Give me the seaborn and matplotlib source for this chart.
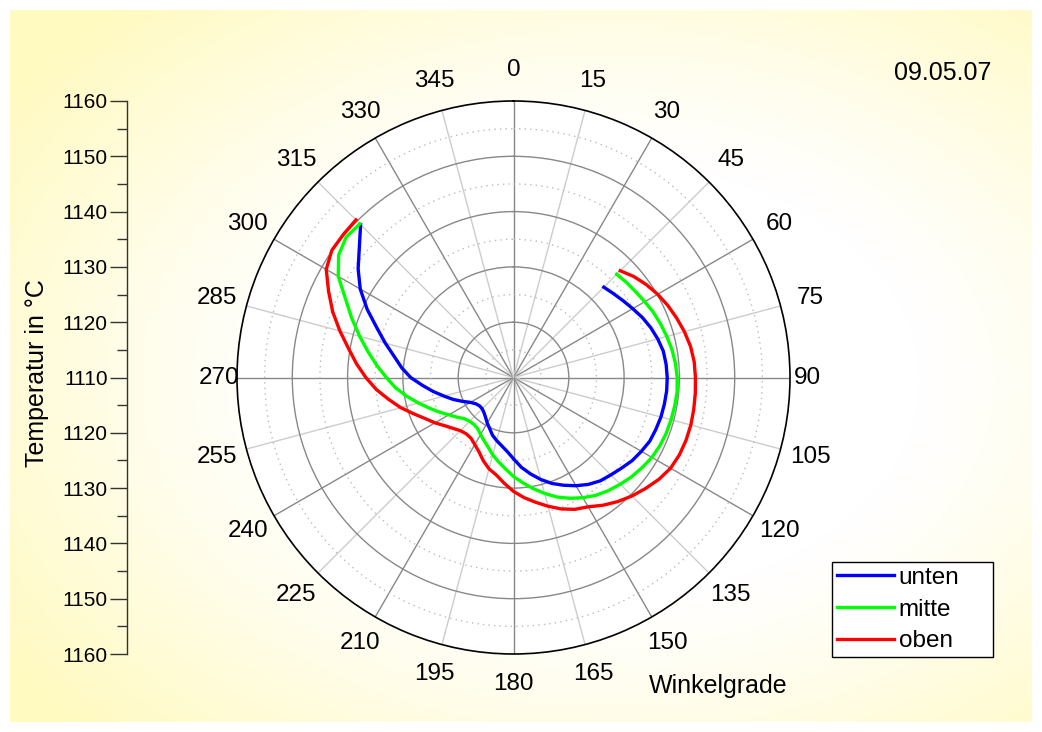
import numpy as np
import pandas as pd
import matplotlib
matplotlib.use("Agg")
import matplotlib.pyplot as plt
import matplotlib.transforms as mtransforms
import seaborn as sns
from matplotlib.ticker import FixedLocator, FuncFormatter

# Measurement angles (degrees, clockwise from top)
winkel = np.arange(45, 320, 5)

# Temperatures in °C per sensor position
unten = [1133.1, 1133.6, 1134.2, 1134.9, 1135.7, 1136.4, 1137.0, 1137.5, 1137.7, 1137.8,
         1137.8, 1137.7, 1137.6, 1137.4, 1137.2, 1136.7, 1136.2, 1135.5, 1134.9, 1134.4,
         1133.6, 1132.6, 1131.5, 1130.4, 1129.1, 1127.7, 1126.3, 1124.7, 1123.4, 1122.5,
         1121.8, 1121.1, 1120.2, 1119.5, 1118.8, 1118.3, 1118.0, 1118.0, 1118.3, 1119.0,
         1120.2, 1121.6, 1123.0, 1124.7, 1126.5, 1128.6, 1130.3, 1131.9, 1134.0, 1136.3,
         1139.2, 1142.0, 1144.3, 1146.4, 1149.1]
mitte = [1136.4, 1136.7, 1137.0, 1137.4, 1137.9, 1138.3, 1138.7, 1139.1, 1139.4, 1139.6,
         1139.7, 1139.6, 1139.5, 1139.4, 1139.2, 1138.9, 1138.4, 1137.9, 1137.3, 1136.7,
         1136.0, 1135.1, 1134.1, 1133.0, 1131.7, 1130.4, 1129.1, 1127.9, 1126.6, 1125.5,
         1124.5, 1123.4, 1122.6, 1121.9, 1121.3, 1121.1, 1121.2, 1121.6, 1122.5, 1123.5,
         1124.8, 1126.2, 1127.8, 1129.6, 1131.4, 1133.0, 1134.8, 1136.7, 1138.8, 1141.1,
         1143.5, 1146.6, 1148.6, 1149.5, 1149.3]
oben = [1137.3, 1138.4, 1139.3, 1140.1, 1140.8, 1141.4, 1142.0, 1142.5, 1142.8, 1142.9,
        1143.0, 1143.1, 1143.2, 1143.2, 1143.1, 1142.8, 1142.1, 1141.2, 1140.3, 1139.3,
        1138.2, 1137.0, 1136.3, 1135.3, 1134.1, 1132.9, 1131.8, 1130.6, 1129.2, 1127.9,
        1127.1, 1126.0, 1124.8, 1124.0, 1123.4, 1123.3, 1123.6, 1124.3, 1125.2, 1126.4,
        1127.6, 1129.2, 1131.1, 1132.9, 1134.9, 1136.7, 1138.5, 1140.3, 1142.5, 1144.8,
        1146.9, 1149.1, 1150.1, 1150.2, 1150.3]

serien = ["unten", "mitte", "oben"]
farben = {"unten": "#0000ff", "mitte": "#00ff00", "oben": "#ff0000"}
winkel_ticks = list(range(0, 360, 15))
winkel_labels = [str(a) for a in winkel_ticks]
t_min, t_max = 1110, 1160
datum = "09.05.07"

df = pd.concat([
    pd.DataFrame({"winkel": np.deg2rad(winkel), "temp": vals, "Lage": name})
    for name, vals in zip(serien, [unten, mitte, oben])
], ignore_index=True)

plt.rcParams["font.family"] = ["Liberation Sans", "DejaVu Sans"]

W, H = 1042, 732
fig = plt.figure(figsize=(W / 100, H / 100), dpi=100)
fig.patch.set_facecolor("white")

# Soft yellow background with a white centre
bg = fig.add_axes([10 / W, 10 / H, 1022 / W, 712 / H], zorder=-5)
bg.axis("off")
gy, gx = np.mgrid[0:712, 0:1022]
d = np.sqrt(((gx - 600) / 560.0) ** 2 + ((gy - 370) / 390.0) ** 2)
t = np.clip((d - 0.55) / 0.75, 0, 1) ** 1.2
yellow = np.array([255, 250, 192]) / 255.0
img = (1 - t[..., None]) * np.ones(3) + t[..., None] * yellow
bg.imshow(img, aspect="auto", interpolation="bilinear")

# Polar plot
ax = fig.add_axes([237 / W, 78 / H, 553 / W, 553 / H], projection="polar")
ax.set_facecolor("white")
ax.set_theta_zero_location("N")
ax.set_theta_direction(-1)

sns.lineplot(data=df, x="winkel", y="temp", hue="Lage", hue_order=serien,
             palette=farben, estimator=None, sort=False, linewidth=2.4,
             legend=False, ax=ax)
ax.set_ylim(t_min, t_max)
ax.set_xlabel("")
ax.set_ylabel("")

ax.set_xticks(np.deg2rad(winkel_ticks))
ax.set_xticklabels([])
ax.tick_params(axis="x", length=0)
for i, gl in enumerate(ax.xaxis.get_gridlines()):
    if i % 2 == 0:
        gl.set(color="#888888", linewidth=1.0, linestyle="-")
    else:
        gl.set(color="#cccccc", linewidth=1.0, linestyle="-")

# Angle labels, centred just outside the rim
rim_px = 276.5
for a, lab in zip(winkel_ticks, winkel_labels):
    s, c = np.sin(np.deg2rad(a)), np.cos(np.deg2rad(a))
    dist = (294.0 if a in (90, 270) else 307.0) - rim_px
    tr = mtransforms.offset_copy(ax.transData, fig=fig, x=dist * s, y=dist * c,
                                 units="dots")
    ax.text(np.deg2rad(a), t_max, lab, transform=tr, fontsize=17.5,
            ha="center", va="center", clip_on=False)

r_ticks = list(range(1115, 1160, 5))
ax.set_yticks(r_ticks)
ax.set_yticklabels([])
ax.tick_params(axis="y", length=0)
for v, gl in zip(r_ticks, ax.yaxis.get_gridlines()):
    if v % 10 == 0:
        gl.set(color="#888888", linewidth=1.0, linestyle="-")
    else:
        gl.set(color="#bbbbbb", linewidth=1.0, linestyle=(0, (1, 3)))
ax.spines["polar"].set(color="black", linewidth=1.2)

# Temperature scale on the left, mirrored about the centre
sc = fig.add_axes([127 / W, 78 / H, 0.001, 553 / H])
sc.patch.set_alpha(0)
for s in ["top", "right", "bottom"]:
    sc.spines[s].set_visible(False)
sc.spines["left"].set(color="#333333", linewidth=1.0)
span = t_max - t_min
sc.set_ylim(-span, span)
sc.set_xticks([])
sc.yaxis.set_major_locator(FixedLocator(np.arange(-span, span + 1, 10)))
sc.yaxis.set_minor_locator(FixedLocator(np.arange(-span + 5, span, 10)))
sc.yaxis.set_major_formatter(FuncFormatter(lambda v, p: f"{t_min + abs(v):.0f}"))
sc.tick_params(axis="y", which="major", length=12, width=1.0, labelsize=15,
               color="#333333", pad=2)
sc.tick_params(axis="y", which="minor", length=7, width=1.0, color="#333333")
fig.text(37 / W, 1 - 373 / H, "Temperatur in °C", rotation=90, fontsize=18,
         ha="center", va="center")

fig.text(718 / W, 1 - 686 / H, "Winkelgrade", fontsize=18, ha="center", va="center")
fig.text(943 / W, 1 - 73 / H, datum, fontsize=18, ha="center", va="center")

handles = [plt.Line2D([], [], color=farben[s], linewidth=2.4) for s in serien]
leg = fig.legend(handles, serien, loc="upper left",
                 bbox_to_anchor=(832 / W, (H - 656) / H, 161 / W, 94 / H),
                 mode="expand", fontsize=17.5,
                 frameon=True, fancybox=False, shadow=False, framealpha=1,
                 borderpad=0.2, handlelength=2.35, handletextpad=0.2,
                 labelspacing=0.4, borderaxespad=0)
leg.get_frame().set(edgecolor="black", linewidth=1.0, facecolor="white")

fig.savefig("out.png", dpi=100)
